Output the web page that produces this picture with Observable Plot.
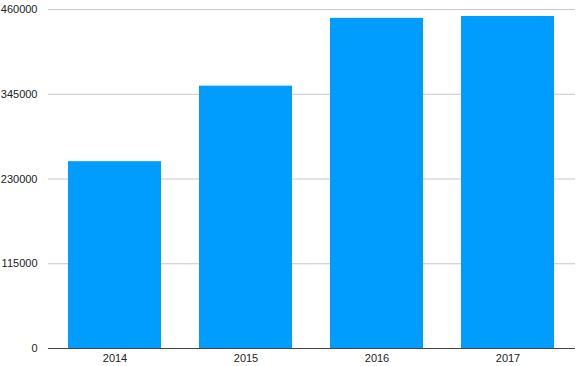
<!DOCTYPE html>
<html>
<head>
<meta charset="utf-8">
<script src="https://cdn.jsdelivr.net/npm/d3@7"></script>
<script src="https://cdn.jsdelivr.net/npm/@observablehq/plot@0.6"></script>
<style>
  html, body { margin: 0; padding: 0; background: #fff; }
  #chart svg { display: block; }
</style>
</head>
<body>
<div id="chart"></div>
<script>
const years = ["2014", "2015", "2016", "2017"];
const values = [253500, 356000, 448000, 450500];
const yTicks = [0, 115000, 230000, 345000, 460000];

const data = years.map((y, i) => ({year: y, value: values[i]}));

const chart = Plot.plot({
  width: 580,
  height: 366,
  marginLeft: 48,
  marginRight: 5,
  marginTop: 9,
  marginBottom: 18,
  style: {fontFamily: "'Liberation Sans', Arial, sans-serif", fontSize: "11px", color: "#222", background: "#fff"},
  x: {domain: years, paddingInner: 0.29, paddingOuter: 0.145, label: null},
  y: {domain: [0, 460000], label: null},
  marks: [
    Plot.gridY(yTicks, {stroke: "#c8c8c8", strokeOpacity: 1, strokeWidth: 1}),
    Plot.barY(data, {x: "year", y: "value", fill: "#009dff"}),
    Plot.ruleY([0], {stroke: "#444", strokeWidth: 1}),
    Plot.axisY(yTicks, {tickSize: 0, tickPadding: 11, tickFormat: d => String(d), label: null, fill: "#222"}),
    Plot.axisX({tickSize: 0, tickPadding: 6, label: null, fill: "#222"})
  ]
});
document.getElementById("chart").appendChild(chart);
</script>
</body>
</html>
